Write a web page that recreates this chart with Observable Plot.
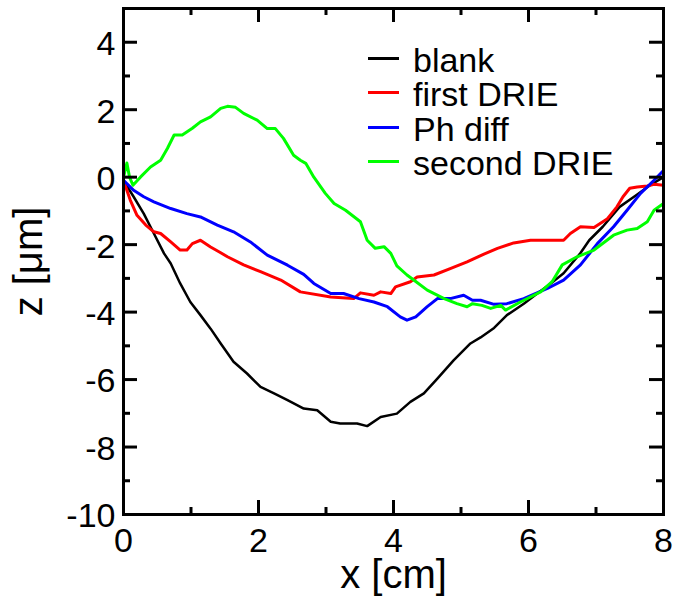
<!DOCTYPE html>
<html><head><meta charset="utf-8">
<script src="https://cdn.jsdelivr.net/npm/d3@7"></script>
<script src="https://cdn.jsdelivr.net/npm/@observablehq/plot@0.6"></script>
<style>
body{margin:0;background:#fff;}
#wrap{position:relative;width:676px;height:600px;font-family:"Liberation Sans",Arial,Helvetica,sans-serif;}
#legend{position:absolute;left:368px;top:41px;}
.row{display:flex;align-items:center;height:34.5px;}
.sw{width:31px;height:3px;margin-right:14px;}
.lbl{font-size:34px;line-height:34.5px;position:relative;top:1.5px;color:#000;white-space:nowrap;}
</style></head><body><div id="wrap"><div id="legend"></div></div>
<script>
// ---- data ----
const seriesNames = ["blank", "first DRIE", "Ph diff", "second DRIE"];
const seriesColors = ["#000000", "#ff0000", "#0000ff", "#00ff00"];
const seriesWidths = [2.5, 3, 3, 3];

const blankX = [0, 0.15, 0.30, 0.45, 0.60, 0.70, 0.84, 0.99, 1.14, 1.29, 1.44, 1.63, 1.83, 2.03, 2.23, 2.43, 2.67, 2.87, 3.07, 3.21, 3.46, 3.61, 3.81, 4.05, 4.25, 4.45, 4.65, 4.89, 5.14, 5.29, 5.49, 5.68, 5.93, 6.13, 6.33, 6.52, 6.77, 6.90, 7.10, 7.35, 7.60, 7.80, 8.0];
const blankZ = [-0.1, -0.58, -1.08, -1.67, -2.26, -2.56, -3.15, -3.70, -4.09, -4.49, -4.93, -5.47, -5.82, -6.22, -6.41, -6.61, -6.86, -6.91, -7.25, -7.30, -7.30, -7.38, -7.11, -7.01, -6.66, -6.41, -5.97, -5.43, -4.93, -4.75, -4.47, -4.09, -3.75, -3.45, -3.15, -2.85, -2.25, -1.87, -1.47, -0.88, -0.53, -0.24, 0.0];

const firstX = [0, 0.10, 0.20, 0.33, 0.45, 0.55, 0.70, 0.84, 0.94, 1.02, 1.14, 1.29, 1.44, 1.54, 1.78, 2.03, 2.33, 2.62, 3.07, 3.41, 3.51, 3.71, 3.81, 3.96, 4.03, 4.25, 4.35, 4.60, 4.84, 5.09, 5.34, 5.54, 5.78, 6.03, 6.52, 6.62, 6.77, 6.97, 7.17, 7.31, 7.40, 7.50, 7.61, 7.76, 7.86, 8.0];
const firstZ = [-0.1, -0.68, -1.13, -1.42, -1.62, -1.67, -1.92, -2.16, -2.16, -1.97, -1.87, -2.07, -2.24, -2.36, -2.60, -2.80, -3.05, -3.40, -3.55, -3.60, -3.43, -3.50, -3.40, -3.45, -3.25, -3.10, -2.96, -2.90, -2.71, -2.51, -2.28, -2.11, -1.95, -1.87, -1.87, -1.67, -1.47, -1.49, -1.23, -0.88, -0.58, -0.33, -0.29, -0.26, -0.21, -0.24];

const phX = [0, 0.15, 0.30, 0.45, 0.70, 0.94, 1.14, 1.39, 1.63, 1.88, 2.13, 2.43, 2.67, 2.82, 3.07, 3.26, 3.49, 3.71, 3.91, 4.10, 4.20, 4.33, 4.50, 4.65, 4.84, 5.04, 5.17, 5.29, 5.49, 5.68, 5.93, 6.28, 6.52, 6.77, 7.02, 7.26, 7.46, 7.66, 7.86, 8.0];
const phZ = [-0.09, -0.39, -0.58, -0.73, -0.93, -1.08, -1.18, -1.42, -1.62, -1.92, -2.31, -2.61, -2.88, -3.15, -3.45, -3.45, -3.60, -3.70, -3.84, -4.14, -4.24, -4.14, -3.84, -3.60, -3.60, -3.50, -3.65, -3.65, -3.77, -3.75, -3.60, -3.30, -3.05, -2.60, -1.97, -1.47, -0.98, -0.48, -0.09, 0.2];

const secondX = [0, 0.05, 0.09, 0.14, 0.25, 0.40, 0.55, 0.65, 0.75, 0.87, 1.02, 1.14, 1.29, 1.44, 1.54, 1.66, 1.78, 1.98, 2.13, 2.25, 2.37, 2.52, 2.62, 2.70, 2.82, 2.99, 3.12, 3.29, 3.51, 3.61, 3.73, 3.86, 3.96, 4.05, 4.20, 4.30, 4.50, 4.75, 4.94, 5.09, 5.17, 5.31, 5.44, 5.59, 5.66, 5.88, 6.18, 6.35, 6.50, 6.72, 6.97, 7.26, 7.46, 7.61, 7.76, 7.86, 8.0];
const secondZ = [0, 0.42, 0.0, -0.24, 0, 0.30, 0.50, 0.85, 1.25, 1.25, 1.45, 1.64, 1.79, 2.04, 2.10, 2.07, 1.89, 1.69, 1.44, 1.44, 1.15, 0.65, 0.50, 0.41, 0.0, -0.48, -0.78, -0.98, -1.32, -1.87, -2.11, -2.06, -2.26, -2.63, -2.90, -3.05, -3.35, -3.60, -3.75, -3.84, -3.75, -3.80, -3.89, -3.80, -3.94, -3.70, -3.40, -3.10, -2.60, -2.36, -2.16, -1.72, -1.57, -1.52, -1.32, -0.98, -0.78];

const xMajor = [0, 2, 4, 6, 8];
const xMinor = [1, 3, 5, 7];
const yMajor = [-10, -8, -6, -4, -2, 0, 2, 4];
const yMinor = [-9, -7, -5, -3, -1, 1, 3];
const xDomain = [0, 8];
const yDomain = [-10, 5];

// ---- build ----
const seriesXs = [blankX, firstX, phX, secondX];
const seriesZs = [blankZ, firstZ, phZ, secondZ];

const W = 676, H = 600, mL = 123, mR = 13, mT = 8, mB = 86;
const kx = (W - mL - mR) / (xDomain[1] - xDomain[0]);
const ky = (H - mT - mB) / (yDomain[1] - yDomain[0]);
const majLen = 14, minLen = 7, tickW = 3;
const font = "Liberation Sans, Arial, Helvetica, sans-serif";

function yTicks(vals, len) {
  return [
    Plot.ruleY(vals, {y: d => d, x1: xDomain[0], x2: xDomain[0] + len / kx, stroke: "black", strokeWidth: tickW}),
    Plot.ruleY(vals, {y: d => d, x1: xDomain[1], x2: xDomain[1] - len / kx, stroke: "black", strokeWidth: tickW})
  ];
}
function xTicks(vals, len) {
  return [
    Plot.ruleX(vals, {x: d => d, y1: yDomain[0], y2: yDomain[0] + len / ky, stroke: "black", strokeWidth: tickW}),
    Plot.ruleX(vals, {x: d => d, y1: yDomain[1], y2: yDomain[1] - len / ky, stroke: "black", strokeWidth: tickW})
  ];
}

const lineMarks = seriesNames.map((name, i) =>
  Plot.line(seriesXs[i].map((x, j) => ({x, z: seriesZs[i][j]})),
    {x: "x", y: "z", stroke: seriesColors[i], strokeWidth: seriesWidths[i], strokeLinejoin: "round"})
);

const chart = Plot.plot({
  width: W, height: H,
  marginLeft: mL, marginRight: mR, marginTop: mT, marginBottom: mB,
  style: {fontFamily: font, background: "white", color: "black", overflow: "visible"},
  x: {domain: xDomain},
  y: {domain: yDomain},
  marks: [
    ...lineMarks.slice().reverse().reverse(),
    ...yTicks(yMajor, majLen), ...yTicks(yMinor, minLen),
    ...xTicks(xMajor, majLen), ...xTicks(xMinor, minLen),
    Plot.frame({stroke: "black", strokeWidth: 3}),
    Plot.axisX(xMajor, {tickSize: 0, tickPadding: 13, fontSize: 34, tickFormat: d => String(d), label: null}),
    Plot.axisY(yMajor, {tickSize: 0, tickPadding: 8, fontSize: 34, dy: 2, tickFormat: d => String(d), label: null}),
    Plot.text(["x [cm]"], {text: d => d, frameAnchor: "bottom", dy: 61, fontSize: 40, lineAnchor: "middle", textAnchor: "middle"}),
    Plot.text(["z [μm]"], {text: d => d, frameAnchor: "left", dx: -94, rotate: -90, fontSize: 40, lineAnchor: "middle", textAnchor: "middle"})
  ]
});
document.getElementById("wrap").prepend(chart);

const legend = document.getElementById("legend");
seriesNames.forEach((name, i) => {
  const row = document.createElement("div");
  row.className = "row";
  const sw = document.createElement("div");
  sw.className = "sw";
  sw.style.background = seriesColors[i];
  const lb = document.createElement("div");
  lb.className = "lbl";
  lb.textContent = name;
  row.append(sw, lb);
  legend.append(row);
});
</script>
</body></html>
